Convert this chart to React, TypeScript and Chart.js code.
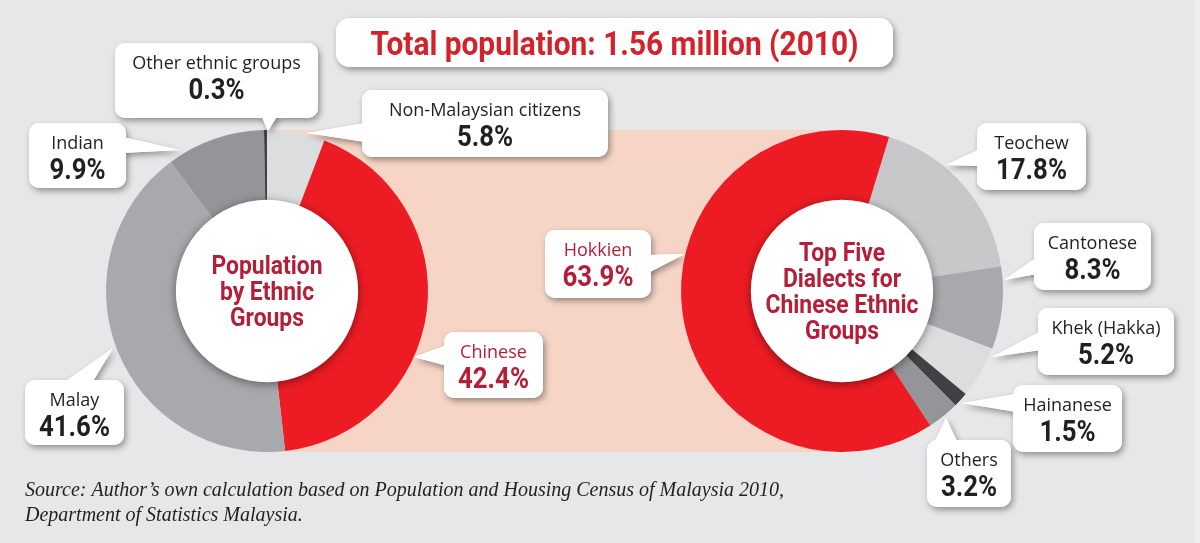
import React, { useEffect, useRef } from 'react';
import { Chart, ArcElement, DoughnutController } from 'chart.js';

Chart.register(ArcElement, DoughnutController);

// ---------------- data ----------------
const titleText = 'Total population: 1.56 million (2010)';

const ethnicLabels = ['Non-Malaysian citizens', 'Chinese', 'Malay', 'Indian', 'Other ethnic groups'];
const ethnicValues = [5.8, 42.4, 41.6, 9.9, 0.3];
const ethnicColors = ['#dcdddf', '#ed1c24', '#a7a9ac', '#939598', '#414042'];
const ethnicCenterLines = ['Population', 'by Ethnic', 'Groups'];

const dialectLabels = ['Teochew', 'Cantonese', 'Khek (Hakka)', 'Hainanese', 'Others', 'Hokkien'];
const dialectValues = [17.8, 8.3, 5.2, 1.5, 3.2, 63.9];
const dialectColors = ['#c7c8ca', '#a7a9ac', '#dcdddf', '#414042', '#939598', '#ed1c24'];
const dialectCenterLines = ['Top Five', 'Dialects for', 'Chinese Ethnic', 'Groups'];

const sourceLines = [
  'Source: Author\u2019s own calculation based on Population and Housing Census of Malaysia 2010,',
  'Department of Statistics Malaysia.',
];

// ---------------- layout / style ----------------
const W = 1200;
const H = 543;
const BG = '#e6e7e8';
const PINK = '#f6d5c7';
const PINK_RECT = [267, 130, 575, 322];
const DARK_TEXT = '#231f20';
const RED_TEXT = '#b51e38';
const TITLE_RED = '#d2232a';
const LABEL_FONT = '18px "Open Sans", "Noto Sans", sans-serif';
const PCT_FONT = 'bold 30px Roboto, "Noto Sans", sans-serif';
const PCT_SX = 0.86;
const CENTER_FONT = 'bold 26px Roboto, "Noto Sans", sans-serif';
const CENTER_SX = 0.88;
const SOURCE_FONT = 'italic 20px "Liberation Serif", "DejaVu Serif", serif';

type Callout = { box: number[]; base: number[]; tip: number[]; red?: boolean };

const ethnicCallouts: Callout[] = [
  { box: [362, 90, 246, 67], base: [365, 123, 365, 142], tip: [307, 133] },
  { box: [444, 332, 99, 66], base: [447, 345, 447, 366], tip: [414, 357], red: true },
  { box: [25, 380, 99, 65], base: [63, 383, 92, 383], tip: [113, 348] },
  { box: [29, 123, 97, 65], base: [123, 137, 123, 153], tip: [180, 150] },
  { box: [115, 43, 203, 75], base: [261, 115, 278, 115], tip: [268, 131] },
];

const dialectCallouts: Callout[] = [
  { box: [977, 123, 109, 67], base: [980, 149, 980, 166], tip: [946, 165] },
  { box: [1034, 223, 117, 67], base: [1037, 257, 1037, 274], tip: [1004, 280] },
  { box: [1038, 308, 136, 67], base: [1041, 331, 1041, 350], tip: [992, 357] },
  { box: [1013, 385, 109, 67], base: [1016, 394, 1016, 412], tip: [962, 403] },
  { box: [927, 440, 84, 67], base: [934, 443, 958, 443], tip: [946, 418] },
  { box: [545, 230, 106, 68], base: [648, 255, 648, 273], tip: [685, 254], red: true },
];

function drawText(
  ctx: CanvasRenderingContext2D,
  text: string,
  x: number,
  y: number,
  font: string,
  color: string,
  sx = 1,
  align: CanvasTextAlign = 'center'
) {
  ctx.save();
  ctx.font = font;
  ctx.fillStyle = color;
  ctx.textAlign = align;
  ctx.textBaseline = 'alphabetic';
  ctx.translate(x, y);
  ctx.scale(sx, 1);
  ctx.fillText(text, 0, 0);
  ctx.restore();
}

function fitScale(ctx: CanvasRenderingContext2D, text: string, font: string, target: number) {
  ctx.save();
  ctx.font = font;
  const w = ctx.measureText(text).width;
  ctx.restore();
  return Math.min(1.2, target / w);
}

function shadowed(ctx: CanvasRenderingContext2D, shape: () => void) {
  ctx.save();
  ctx.fillStyle = '#ffffff';
  ctx.shadowColor = 'rgba(0,0,0,0.38)';
  ctx.shadowBlur = 6;
  ctx.shadowOffsetX = 2;
  ctx.shadowOffsetY = 3;
  shape();
  ctx.restore();
  ctx.save();
  ctx.fillStyle = '#ffffff';
  shape();
  ctx.restore();
}

function drawCallout(ctx: CanvasRenderingContext2D, c: Callout, label: string, value: number) {
  const [x, y, w, h] = c.box;
  const [bx1, by1, bx2, by2] = c.base;
  shadowed(ctx, () => {
    ctx.beginPath();
    ctx.roundRect(x, y, w, h, 10);
    ctx.fill();
    ctx.beginPath();
    ctx.moveTo(bx1, by1);
    ctx.lineTo(c.tip[0], c.tip[1]);
    ctx.lineTo(bx2, by2);
    ctx.closePath();
    ctx.fill();
  });
  const color = c.red ? RED_TEXT : DARK_TEXT;
  const cx = x + w / 2;
  drawText(ctx, label, cx, y + 26, LABEL_FONT, color);
  drawText(ctx, value.toFixed(1) + '%', cx, y + 56, PCT_FONT, color, PCT_SX);
}

function holePlugin(id: string, lines: string[]) {
  return {
    id,
    afterDatasetsDraw(chart: any) {
      const ctx: CanvasRenderingContext2D = chart.ctx;
      const arc: any = chart.getDatasetMeta(0).data[0];
      if (!arc) return;
      const { x, y, innerRadius } = arc;
      ctx.save();
      ctx.fillStyle = '#ffffff';
      ctx.shadowColor = 'rgba(0,0,0,0.45)';
      ctx.shadowBlur = 10;
      ctx.shadowOffsetX = 0;
      ctx.shadowOffsetY = 2;
      ctx.beginPath();
      ctx.arc(x, y, innerRadius + 1, 0, Math.PI * 2);
      ctx.fill();
      ctx.restore();
      const lh = 26;
      const first = y - ((lines.length - 1) * lh) / 2 + 9;
      lines.forEach((t, i) => drawText(ctx, t, x, first + i * lh, CENTER_FONT, RED_TEXT, CENTER_SX));
    },
  };
}

const backgroundPlugin = {
  id: 'bgPink',
  beforeDraw(chart: any) {
    const ctx: CanvasRenderingContext2D = chart.ctx;
    ctx.save();
    ctx.fillStyle = BG;
    ctx.fillRect(0, 0, W, H);
    ctx.fillStyle = '#eeeff0';
    ctx.fillRect(W - 5, 0, 5, H);
    ctx.fillStyle = PINK;
    ctx.fillRect(PINK_RECT[0], PINK_RECT[1], PINK_RECT[2], PINK_RECT[3]);
    ctx.restore();
  },
};

const annotationPlugin = {
  id: 'annotations',
  afterDraw(chart: any) {
    const ctx: CanvasRenderingContext2D = chart.ctx;
    // title box
    shadowed(ctx, () => {
      ctx.beginPath();
      ctx.roundRect(336, 18, 557, 49, 14);
      ctx.fill();
    });
    const tFont = 'bold 34px Roboto, "Noto Sans", sans-serif';
    drawText(ctx, titleText, 614.5, 55, tFont, TITLE_RED, fitScale(ctx, titleText, tFont, 488));
    ethnicCallouts.forEach((c, i) => drawCallout(ctx, c, ethnicLabels[i], ethnicValues[i]));
    dialectCallouts.forEach((c, i) => drawCallout(ctx, c, dialectLabels[i], dialectValues[i]));
    drawText(ctx, sourceLines[0], 25, 496, SOURCE_FONT, DARK_TEXT, 1, 'left');
    drawText(ctx, sourceLines[1], 25, 521, SOURCE_FONT, DARK_TEXT, 1, 'left');
  },
};

function makeChart(
  canvas: HTMLCanvasElement,
  labels: string[],
  values: number[],
  colors: string[],
  rotation: number,
  padding: any,
  plugins: any[]
) {
  return new Chart(canvas, {
    type: 'doughnut',
    data: { labels, datasets: [{ data: values, backgroundColor: colors, borderWidth: 0 }] },
    options: {
      responsive: false,
      maintainAspectRatio: false,
      animation: false,
      events: [],
      cutout: '56%',
      rotation,
      layout: { padding },
      plugins: { legend: { display: false }, tooltip: { enabled: false } },
    } as any,
    plugins,
  });
}

export default function App() {
  const ref1 = useRef<HTMLCanvasElement>(null);
  const ref2 = useRef<HTMLCanvasElement>(null);

  useEffect(() => {
    if (!ref1.current || !ref2.current) return;
    const c1 = makeChart(
      ref1.current,
      ethnicLabels,
      ethnicValues,
      ethnicColors,
      0,
      { left: 106, top: 130, right: W - 428, bottom: H - 452 },
      [backgroundPlugin, holePlugin('hole1', ethnicCenterLines)]
    );
    const c2 = makeChart(
      ref2.current,
      dialectLabels,
      dialectValues,
      dialectColors,
      17,
      { left: 681, top: 130, right: W - 1003, bottom: H - 452 },
      [holePlugin('hole2', dialectCenterLines), annotationPlugin]
    );
    const fonts: any = (document as any).fonts;
    if (fonts && fonts.ready) {
      fonts.ready.then(() => {
        c1.update();
        c2.update();
      });
    }
    return () => {
      c1.destroy();
      c2.destroy();
    };
  }, []);

  const canvasStyle: React.CSSProperties = { position: 'absolute', left: 0, top: 0, width: W, height: H };
  return (
    <div style={{ position: 'fixed', left: 0, top: 0, width: W, height: H, background: BG, overflow: 'hidden' }}>
      <canvas ref={ref1} width={W} height={H} style={canvasStyle} />
      <canvas ref={ref2} width={W} height={H} style={canvasStyle} />
    </div>
  );
}
